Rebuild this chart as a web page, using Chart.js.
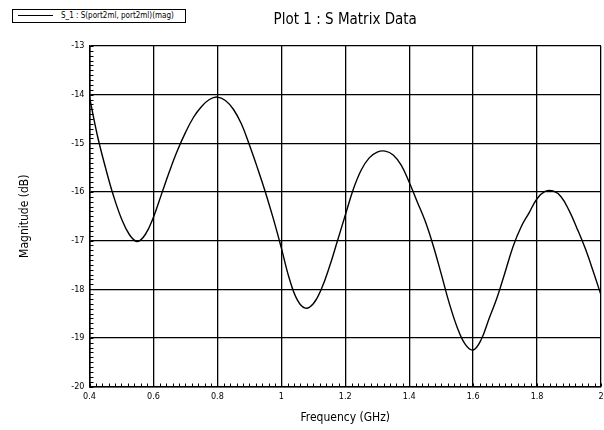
<!DOCTYPE html>
<html>
<head>
<meta charset="utf-8">
<script src="https://cdn.jsdelivr.net/npm/chart.js@4.4.1/dist/chart.umd.min.js"></script>
<style>
    html, body { margin: 0; padding: 0; background: #fff; }
    #wrap { position: relative; width: 604px; height: 430px; }
    #legend {
        position: absolute; left: 12px; top: 9px; width: 172px; height: 12px;
        border: 1px solid #000; background: #fff;
        font: 8px 'DejaVu Sans Condensed', 'Liberation Sans Narrow', sans-serif;
        line-height: 12px; white-space: nowrap; color: #000;
    }
    #legend .swatch {
        display: inline-block; width: 35px; border-top: 1px solid #000;
        vertical-align: middle; margin: 0 8px 0 5px;
    }
</style>
</head>
<body>
<div id="wrap">
    <canvas id="chart" width="604" height="430"></canvas>
    <div id="legend"><span class="swatch"></span>S_1 : S(port2ml, port2ml)(mag)</div>
</div>
<script>
// datos
const freqGHz = [0.40, 0.425, 0.45, 0.475, 0.50, 0.525, 0.55, 0.575, 0.60, 0.625, 0.65, 0.675,
    0.70, 0.725, 0.75, 0.775, 0.80, 0.825, 0.85, 0.875, 0.90, 0.925, 0.95, 0.975,
    1.00, 1.025, 1.05, 1.075, 1.10, 1.125, 1.15, 1.175, 1.20, 1.225, 1.25, 1.275,
    1.30, 1.325, 1.35, 1.375, 1.40, 1.425, 1.45, 1.475, 1.50, 1.525, 1.55, 1.575,
    1.60, 1.625, 1.65, 1.675, 1.70, 1.725, 1.75, 1.775, 1.80, 1.825, 1.85, 1.875,
    1.90, 1.925, 1.95, 1.975, 2.00];
const magDB = [-14.05, -14.85, -15.5, -16.08, -16.55, -16.88, -17.02, -16.87, -16.52, -16.05, -15.58, -15.15,
    -14.78, -14.47, -14.25, -14.1, -14.05, -14.12, -14.3, -14.6, -15.03, -15.5, -16.0, -16.55,
    -17.15, -17.78, -18.22, -18.39, -18.3, -18.0, -17.55, -17.02, -16.48, -15.95, -15.55, -15.3,
    -15.18, -15.16, -15.24, -15.45, -15.8, -16.2, -16.6, -17.1, -17.68, -18.28, -18.78, -19.13,
    -19.25, -19.04, -18.6, -18.17, -17.65, -17.12, -16.72, -16.43, -16.14, -15.99, -15.98, -16.1,
    -16.38, -16.75, -17.15, -17.62, -18.12];

const xTicks = [0.4, 0.6, 0.8, 1.0, 1.2, 1.4, 1.6, 1.8, 2.0];
const xTickLabels = ['0.4', '0.6', '0.8', '1', '1.2', '1.4', '1.6', '1.8', '2'];
const yTicks = [-20, -19, -18, -17, -16, -15, -14, -13];
const yTickLabels = ['-20', '-19', '-18', '-17', '-16', '-15', '-14', '-13'];

const FONT = "'DejaVu Sans Condensed', 'Liberation Sans Narrow', sans-serif";

// marcas menores hacia adentro
const minorTicks = {
    id: 'minorTicks',
    afterDraw(chart) {
        const ctx = chart.ctx;
        const xs = chart.scales.x, ys = chart.scales.y;
        const area = chart.chartArea;
        ctx.save();
        ctx.strokeStyle = '#000';
        ctx.lineWidth = 1;
        ctx.beginPath();
        for (let i = 0; i <= 80; i++) {
            const px = Math.round(xs.getPixelForValue(0.4 + i * 0.02)) + 0.5;
            ctx.moveTo(px, area.bottom);
            ctx.lineTo(px, area.bottom - 3);
        }
        for (let j = 0; j <= 70; j++) {
            const py = Math.round(ys.getPixelForValue(-20 + j * 0.1)) + 0.5;
            ctx.moveTo(area.left, py);
            ctx.lineTo(area.left + 4, py);
        }
        ctx.stroke();
        ctx.restore();
    }
};

var ctx = document.getElementById('chart').getContext('2d');
var chart = new Chart(ctx, {
    type: 'line',
    data: {
        datasets: [{
            label: 'S_1 : S(port2ml, port2ml)(mag)',
            data: freqGHz.map((f, i) => ({ x: f, y: magDB[i] })),
            borderColor: '#000',
            borderWidth: 1.4,
            pointRadius: 0,
            fill: false,
            tension: 0.4
        }]
    },
    options: {
        responsive: false,
        animation: false,
        layout: { padding: { left: 0, right: 3, top: 0, bottom: 0 } },
        plugins: {
            legend: { display: false },
            tooltip: { enabled: false },
            title: {
                display: true,
                text: 'Plot 1 : S Matrix Data',
                fullSize: false,
                color: '#000',
                font: { family: FONT, size: 15, weight: 'normal' },
                padding: { top: 11, bottom: 17 }
            }
        },
        scales: {
            x: {
                type: 'linear',
                min: 0.4,
                max: 2.0,
                afterFit: function (scale) {
                    scale.height = 43.5;
                    scale.paddingLeft = 0;
                    scale.paddingRight = 0;
                },
                afterBuildTicks: function (scale) { scale.ticks = xTicks.map(v => ({ value: v })); },
                ticks: {
                    color: '#000',
                    padding: 5,
                    maxRotation: 0,
                    font: { family: FONT, size: 9 },
                    callback: function (value) {
                        const k = xTicks.findIndex(t => Math.abs(t - value) < 1e-6);
                        return k >= 0 ? xTickLabels[k] : '';
                    }
                },
                grid: { color: '#000', lineWidth: 1.3, drawTicks: false },
                border: { display: true, color: '#000', width: 1.5 },
                title: {
                    display: true,
                    text: 'Frequency (GHz)',
                    color: '#000',
                    font: { family: FONT, size: 12 },
                    padding: { top: 0, bottom: 5 }
                }
            },
            y: {
                type: 'linear',
                min: -20,
                max: -13,
                afterFit: function (scale) { scale.width = 89.5; },
                afterBuildTicks: function (scale) { scale.ticks = yTicks.map(v => ({ value: v })); },
                ticks: {
                    color: '#000',
                    padding: 5,
                    font: { family: FONT, size: 9 },
                    callback: function (value) {
                        const k = yTicks.indexOf(value);
                        return k >= 0 ? yTickLabels[k] : '';
                    }
                },
                grid: { color: '#000', lineWidth: 1.3, drawTicks: false },
                border: { display: true, color: '#000', width: 1.5 },
                title: {
                    display: true,
                    text: 'Magnitude (dB)',
                    color: '#000',
                    font: { family: FONT, size: 12 },
                    padding: { top: 18, bottom: 0 }
                }
            }
        }
    },
    plugins: [minorTicks]
});
</script>
</body>
</html>
